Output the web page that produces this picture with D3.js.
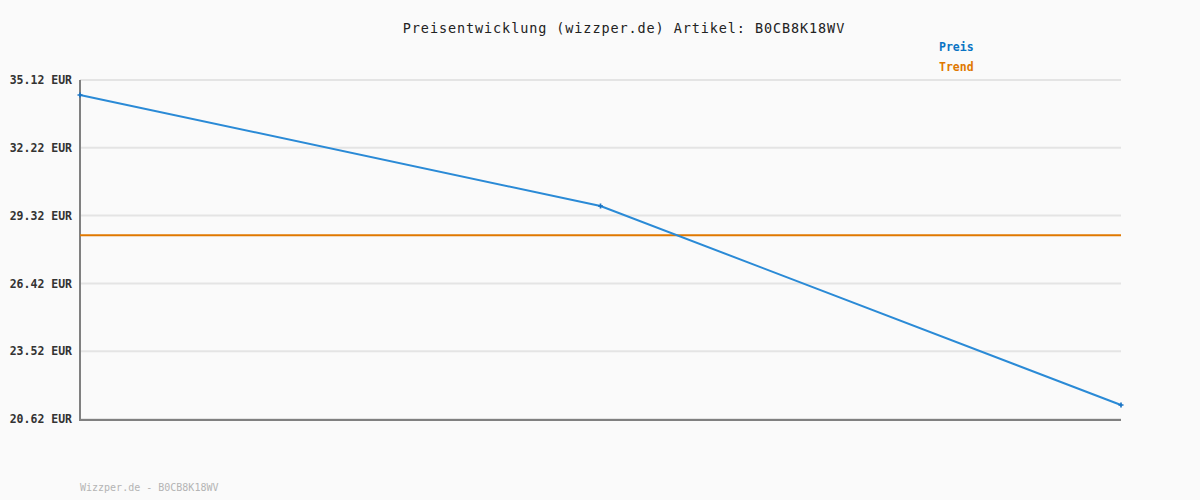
<!DOCTYPE html>
<html>
<head>
<meta charset="utf-8">
<script src="https://cdn.jsdelivr.net/npm/d3@7"></script>
<style>
  html, body { margin: 0; padding: 0; background: #fafafa; }
  svg { display: block; font-family: "DejaVu Sans Mono", monospace; }
</style>
</head>
<body>
<svg id="chart" width="1200" height="500"></svg>
<script>
// price points (three observations) and the flat trend (mean)
const points = [0, 1, 2]
const prices = [34.48, 29.73, 21.22]
const trend = [28.48, 28.48, 28.48]
const yTicks = [35.12, 32.22, 29.32, 26.42, 23.52, 20.62]
const title = 'Preisentwicklung (wizzper.de) Artikel: B0CB8K18WV'
const footer = 'Wizzper.de - B0CB8K18WV'
const legend = [{name: 'Preis', color: '#0a74c4'}, {name: 'Trend', color: '#e07800'}]

const svg = d3.select('#chart')
const margin = {top: 80, right: 79, bottom: 81, left: 80}
const width = +svg.attr('width')
const height = +svg.attr('height')
const innerW = width - margin.left - margin.right
const innerH = height - margin.top - margin.bottom

svg.append('rect').attr('width', width).attr('height', height).attr('fill', '#fafafa')

const g = svg.append('g').attr('transform', `translate(${margin.left},${margin.top})`)

const x = d3.scaleLinear().domain(d3.extent(points)).range([0, innerW])
const y = d3.scaleLinear().domain([20.62, 35.12]).range([innerH, 0])

// gridlines
g.selectAll('line.grid').data(yTicks).enter().append('line')
  .attr('class', 'grid')
  .attr('x1', 0).attr('x2', innerW)
  .attr('y1', d => y(d)).attr('y2', d => y(d))
  .attr('stroke', '#e4e4e4').attr('stroke-width', 2)

// y axis labels
const yAxis = g.append('g').call(d3.axisLeft(y).tickValues(yTicks)
  .tickFormat(d => d3.format('.2f')(d) + ' EUR').tickSize(0).tickPadding(8))
yAxis.select('.domain').remove()
yAxis.selectAll('text')
  .attr('font-family', '"DejaVu Sans Mono", monospace')
  .attr('font-size', 11.5).attr('font-weight', 'bold').attr('fill', '#333')

// axis lines
g.append('line').attr('x1', 0).attr('x2', 0).attr('y1', 0).attr('y2', innerH + 1)
  .attr('stroke', '#808080').attr('stroke-width', 2)
g.append('line').attr('x1', -1).attr('x2', innerW).attr('y1', innerH + 1).attr('y2', innerH + 1)
  .attr('stroke', '#808080').attr('stroke-width', 2)

// trend line
g.append('path')
  .datum(points.map((p, i) => [p, trend[i]]))
  .attr('fill', 'none').attr('stroke', '#e07800').attr('stroke-width', 2)
  .attr('d', d3.line().x(d => x(d[0])).y(d => y(d[1])))

// price line
g.append('path')
  .datum(points.map((p, i) => [p, prices[i]]))
  .attr('fill', 'none').attr('stroke', '#2a8ad6').attr('stroke-width', 2)
  .attr('d', d3.line().x(d => x(d[0])).y(d => y(d[1])))

// point markers (small crosses)
g.selectAll('path.pt').data(points).enter().append('path')
  .attr('class', 'pt')
  .attr('transform', (d, i) => `translate(${x(d)},${y(prices[i])})`)
  .attr('d', d3.symbol(d3.symbolCross, 14)())
  .attr('fill', '#1a74c4')

// title
svg.append('text').attr('x', 624).attr('y', 33)
  .attr('text-anchor', 'middle')
  .attr('font-size', 13.5).attr('letter-spacing', 0.9).attr('fill', '#222')
  .text(title)

// legend
svg.selectAll('text.legend').data(legend).enter().append('text')
  .attr('class', 'legend')
  .attr('x', 939).attr('y', (d, i) => 51 + i * 20)
  .attr('font-size', 11.5).attr('font-weight', 'bold')
  .attr('fill', d => d.color)
  .text(d => d.name)

// footer
svg.append('text').attr('x', 80).attr('y', 491)
  .attr('font-size', 10).attr('fill', '#b4b4b4')
  .text(footer)
</script>
</body>
</html>
